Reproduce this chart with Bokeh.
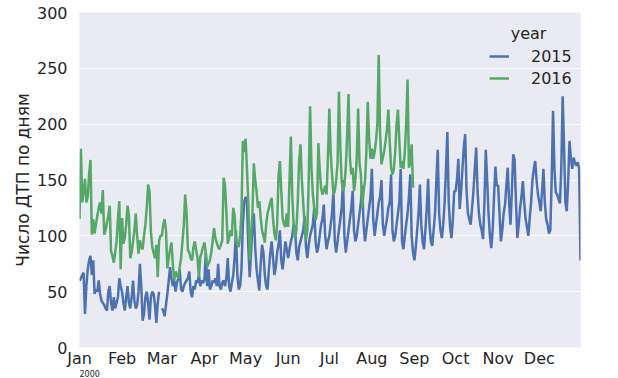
import math
import pandas as pd
from bokeh.plotting import figure
from bokeh.models import (ColumnDataSource, Range1d, FixedTicker, DatetimeTickFormatter,
                          Legend, LegendItem, Label, Title)
from bokeh.embed import file_html
from bokeh.resources import INLINE

# ---------------- data (daily counts, mapped onto year 2000 calendar) ----------------
jan15 = [60, 62, 65, 67, 30, 55, 70, 78, 82, 65, 78, 48, 52, 50, 60, 48, 42, 40, 38, 35, 33, 50, 55, 40, 33, 45, 35, 40, 45, 62, 55]
feb15 = [50, 40, 33, 45, 55, 40, 35, 45, 60, 42, 35, 38, 50, 75, 55, 24, 30, 45, 50, 40, 25, 45, 50, 48, 38, 22, 40, 50]
mar15 = [35, 33, 28, 38, 48, 60, 72, 62, 55, 60, 50, 58, 62, 70, 52, 50, 55, 58, 60, 62, 68, 50, 45, 55, 52, 60, 58, 65, 55, 60, 58]
apr15 = [60, 85, 55, 70, 52, 55, 60, 58, 62, 55, 75, 55, 52, 58, 60, 55, 62, 80, 55, 50, 58, 65, 80, 105, 65, 52, 55, 70, 110, 130]
may15 = [135, 130, 90, 63, 85, 110, 120, 90, 70, 60, 51, 75, 92, 85, 65, 55, 52, 70, 85, 95, 80, 65, 72, 85, 92, 105, 78, 70, 82, 95, 88]
jun15 = [80, 88, 95, 100, 110, 108, 85, 78, 90, 95, 100, 105, 118, 90, 80, 92, 100, 105, 110, 125, 95, 85, 90, 100, 110, 115, 128, 100, 88, 95]
jul15 = [100, 110, 120, 140, 95, 85, 95, 105, 115, 125, 150, 100, 85, 95, 105, 115, 125, 140, 105, 95, 100, 110, 120, 130, 145, 110, 95, 105, 115, 125, 135]
aug15 = [160, 115, 100, 110, 120, 130, 135, 150, 110, 100, 108, 115, 125, 130, 155, 105, 95, 100, 110, 120, 130, 160, 95, 88, 100, 110, 120, 135, 155, 100, 85]
sep15 = [78, 90, 105, 120, 146, 110, 95, 88, 105, 125, 151, 110, 95, 91, 105, 120, 150, 177, 120, 105, 98, 110, 130, 160, 193, 130, 108, 98, 115, 140]
oct15 = [140, 150, 169, 124, 140, 160, 180, 191, 140, 120, 115, 110, 125, 140, 160, 179, 140, 120, 110, 105, 97, 130, 177, 150, 120, 100, 89, 105, 135, 162, 145]
nov15 = [145, 120, 95, 105, 120, 128, 145, 161, 130, 110, 140, 173, 168, 130, 98, 110, 125, 135, 149, 130, 115, 108, 100, 116, 130, 150, 160, 167, 150, 137]
dec15 = [130, 122, 140, 160, 130, 115, 110, 102, 105, 150, 212, 160, 139, 137, 133, 129, 160, 225, 180, 130, 122, 148, 185, 169, 160, 170, 165, 163, 166, 160, 78]

jan16 = [115, 178, 130, 140, 151, 130, 135, 155, 168, 101, 115, 102, 110, 118, 125, 130, 120, 141, 101, 105, 112, 118, 127, 86, 82, 76, 85, 95, 115, 131, 70]
feb16 = [116, 93, 98, 110, 127, 118, 80, 85, 95, 105, 120, 100, 84, 96, 90, 88, 100, 110, 125, 146, 140, 104, 90, 85, 80, 92, 63, 96, 100]
mar16 = [100, 110, 115, 105, 71, 80, 88, 94, 75, 60, 68, 65, 62, 72, 80, 95, 110, 137, 120, 87, 85, 80, 78, 90, 95, 87, 80, 63, 81, 85, 90]
apr16 = [94, 85, 72, 75, 78, 85, 95, 107, 98, 94, 90, 88, 92, 96, 152, 145, 122, 93, 98, 105, 100, 125, 118, 98, 92, 90, 100, 120, 185, 175]
may16 = [187, 160, 129, 78, 100, 120, 165, 150, 140, 125, 131, 116, 105, 100, 94, 110, 120, 125, 130, 134, 115, 102, 96, 110, 154, 167, 140, 116, 110, 108, 120]
jun16 = [108, 150, 189, 137, 110, 98, 105, 130, 167, 182, 150, 129, 110, 96, 105, 150, 216, 161, 137, 125, 114, 120, 183, 160, 143, 137, 140, 145, 137, 170]
jul16 = [214, 175, 155, 137, 140, 150, 165, 229, 180, 149, 140, 145, 161, 190, 227, 170, 155, 161, 140, 150, 170, 214, 165, 155, 125, 140, 149, 175, 220, 187, 169]
aug16 = [178, 169, 175, 185, 200, 262, 191, 164, 170, 176, 185, 195, 213, 185, 161, 155, 160, 175, 200, 213, 185, 161, 167, 160, 175, 200, 240, 161, 165, 182, 143]

month_labels = ["Jan", "Feb", "Mar", "Apr", "May", "Jun", "Jul", "Aug", "Sep", "Oct", "Nov", "Dec"]
y_ticks = [0, 50, 100, 150, 200, 250, 300]
series_names = ["2015", "2016"]
legend_title = "year"
y_label = "Число ДТП по дням"
base_year_label = "2000"

# ---------------- assemble ----------------
NaN = float("nan")
v2015 = jan15 + feb15 + [NaN] + mar15 + apr15 + may15 + jun15 + jul15 + aug15 + sep15 + oct15 + nov15 + dec15
v2016 = jan16 + feb16 + mar16 + apr16 + may16 + jun16 + jul16 + aug16

dates = pd.date_range("2000-01-01", "2000-12-31", freq="D")
src15 = ColumnDataSource(dict(x=dates[:len(v2015)], y=v2015))
src16 = ColumnDataSource(dict(x=dates[:len(v2016)], y=v2016))

month_starts = pd.date_range("2000-01-01", periods=12, freq="MS")
month_ticks = [t.timestamp() * 1000.0 for t in month_starts]

FONT = "DejaVu Sans"
TXT = "#262626"
FS = "16px"

p = figure(width=618, height=378, x_axis_type="datetime", output_backend="svg",
           toolbar_location=None,
           x_range=Range1d(dates[0], dates[-1]), y_range=Range1d(0, 300),
           min_border_left=79, min_border_right=38, min_border_top=12, min_border_bottom=31)

p.background_fill_color = "#EAEAF2"
p.border_fill_color = "white"
p.outline_line_color = None

r15 = p.line("x", "y", source=src15, line_color="#4C72B0", line_width=2.5)
r16 = p.line("x", "y", source=src16, line_color="#55A868", line_width=2.5)

# axes
p.xaxis.ticker = FixedTicker(ticks=month_ticks)
p.xaxis.formatter = DatetimeTickFormatter(days="%b", months="%b", years="%b")
p.yaxis.ticker = FixedTicker(ticks=y_ticks)
for ax in (p.xaxis, p.yaxis):
    ax.axis_line_color = None
    ax.major_tick_line_color = None
    ax.minor_tick_line_color = None
    ax.major_tick_out = 0
    ax.major_tick_in = 0
    ax.minor_tick_out = 0
    ax.major_label_text_font = FONT
    ax.major_label_text_font_size = FS
    ax.major_label_text_color = TXT
p.xaxis.major_label_standoff = 1
p.yaxis.major_label_standoff = 12
p.yaxis.axis_label = y_label
p.yaxis.axis_label_text_font = FONT
p.yaxis.axis_label_text_font_size = "17px"
p.yaxis.axis_label_text_font_style = "normal"
p.yaxis.axis_label_text_color = TXT
p.yaxis.axis_label_standoff = 1

p.xgrid.grid_line_color = None
p.ygrid.grid_line_color = "white"
p.ygrid.grid_line_width = 1.2

# legend
legend = Legend(items=[LegendItem(label=series_names[0], renderers=[r15]),
                       LegendItem(label=series_names[1], renderers=[r16])],
                location=(410, 259), padding=0, spacing=2,
                glyph_width=20, glyph_height=20, label_height=20, label_standoff=22,
                background_fill_alpha=0, border_line_alpha=0,
                label_text_font=FONT, label_text_font_size=FS, label_text_color=TXT)
p.add_layout(legend, "center")

title_x = pd.Timestamp("2000-11-23 03:00").timestamp() * 1000.0
p.add_layout(Label(x=title_x, y=281, text=legend_title, text_align="center",
                   text_baseline="middle", text_font=FONT, text_font_size=FS,
                   text_color=TXT))

# "2000" under the first month tick
year_title = Title(text=base_year_label, align="left", offset=0, standoff=-6,
                   text_font=FONT, text_font_size="8px", text_font_style="normal",
                   text_color=TXT)
p.add_layout(year_title, "below")

open("out.html", "w").write(file_html(p, INLINE))
